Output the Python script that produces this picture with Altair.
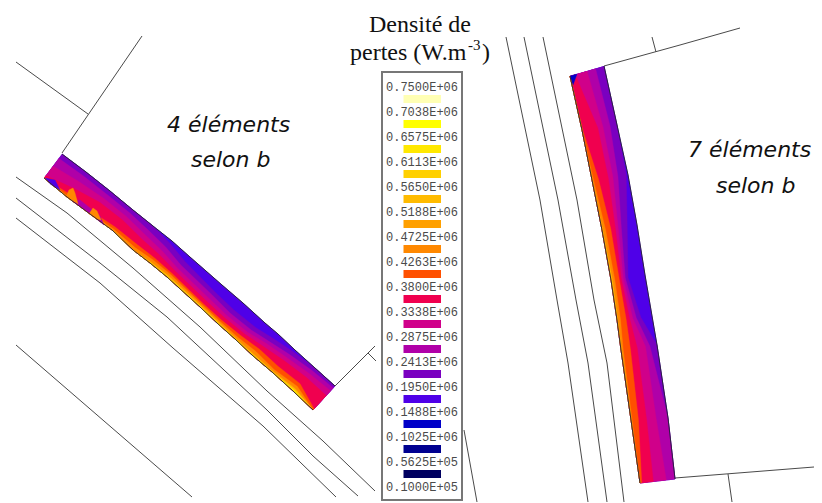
import altair as alt
import pandas as pd

# ---- legend ----
level_labels = ["0.7500E+06","0.7038E+06","0.6575E+06","0.6113E+06","0.5650E+06","0.5188E+06",
                "0.4725E+06","0.4263E+06","0.3800E+06","0.3338E+06","0.2875E+06","0.2413E+06",
                "0.1950E+06","0.1488E+06","0.1025E+06","0.5625E+05","0.1000E+05"]
level_colors = ["#ffffb4","#ffff00","#ffe800","#ffd000","#ffbb00","#ffa000","#ff8800","#ff5000",
                "#f0004f","#d0008a","#b000a8","#7a00c0","#4f00e8","#0000c8","#000090","#000060"]

VIOLET, PURPLE, MAUVE, MAGENTA, RED, DEEP, ORANGE, AMBER, YELLOW, NAVY = (
    "#4f00e8", "#7a00c0", "#b000a8", "#d0008a", "#f0004f", "#ff5000", "#ff8800", "#ffbb00", "#ffe600", "#0000c8")

# ---- left element (4 elements) ----
a_hot = [(44,178),(67,197),(90,214),(112,230),(133,250),(150,263),(167,277),(200,307),(217,323),
         (235,339),(252,355),(272,372),(293,391),(313,410)]
a_cold = [(62,154),(86,172),(110,191),(133,210),(153,226),(172,241),(190,257),(222,285),(243,303),
          (265,323),(278,334),(295,350),(315,368),(335,386)]
a_bands = [
    (PURPLE,  [1,1,1,1,1,.9,.78,.68,.65,.7,.8,.92,1,1]),
    (MAUVE,   [.82,.85,.85,.85,.8,.72,.6,.55,.5,.55,.65,.78,.88,.92]),
    (MAGENTA, [.5,.62,.68,.68,.62,.55,.45,.4,.38,.42,.55,.65,.75,.8]),
    (RED,     [.1,.35,.5,.5,.45,.4,.33,.28,.28,.32,.42,.52,.6,.6]),
    (DEEP,    [0,.12,.1,.15,.22,.22,.2,.15,.16,.2,.28,.26,.32,.05]),
    (ORANGE,  [0,.03,.02,.06,.1,.14,.14,.1,.1,.1,.16,.1,.2,0]),
    (AMBER,   [0,0,0,0,0,.04,.06,.05,.05,.03,.05,.03,.1,0]),
    (YELLOW,  [0,0,0,0,0,0,.015,.02,.015,.01,.01,0,.05,0]),
]
a_patches = [
    (VIOLET, [(45,178),(55,180),(60,190),(50,184)]),
    (MAUVE,  [(72,201),(80,200),(100,216),(104,225),(90,214)]),
    (ORANGE, [(66,197),(69,190),(73,188),(75,193),(78,204)]),
    (ORANGE, [(89,214),(93,208),(97,211),(101,220),(96,219)]),
]

# ---- right element (7 elements) ----
b_hot = [(570,76),(582,130),(592,180),(602,230),(611,280),(617,320),(621,350),(631,420),(640,483)]
b_cold = [(604,66),(617,125),(628,175),(637,225),(645,275),(652,316),(657,345),(668,418),(675,479)]
b_bands = [
    (PURPLE,  [1,1,.95,.72,.5,.68,1,1,1]),
    (MAUVE,   [.75,.8,.72,.55,.42,.55,.8,1,1]),
    (MAGENTA, [.5,.6,.58,.46,.36,.45,.68,.68,.75]),
    (RED,     [.15,.45,.45,.38,.3,.36,.45,.42,.38]),
    (DEEP,    [0,.02,.18,.25,.24,.26,.26,.2,.05]),
    (ORANGE,  [0,0,.04,.1,.11,.1,.06,.03,0]),
    (AMBER,   [0,0,0,.02,.04,.02,.01,0,0]),
]
b_patches = [(NAVY, [(570,76),(577,74),(573,85)])]

# ---- thin construction lines ----
thin_lines = [
    [(142,36),(62,153)],
    [(16,62),(88,114)],
    [(16,177),(67,213),(133,268),(200,327),(267,391),(323,441),(375,491)],
    [(16,198),(100,263),(167,317),(267,410),(313,456),(358,496)],
    [(16,218),(100,283),(173,348),(263,426),(336,497)],
    [(16,345),(192,497)],
    [(335,386),(375,346)],
    [(368,353),(376,361)],
    [(506,37),(540,200),(557,300),(568,363),(588,502)],
    [(524,37),(558,200),(576,300),(588,363),(607,502)],
    [(543,37),(577,200),(594,300),(607,363),(624,502)],
    [(604,66),(680,45),(740,28)],
    [(652,37),(656,52)],
    [(675,478),(814,467)],
    [(728,474),(732,502)],
    [(464,430),(477,502)],
]

# ---- annotations ----
notes = [
    ("4 éléments", 167, 132), ("selon b", 191, 167),
    ("7 éléments", 688, 157), ("selon b", 716, 193),
]
title_lines = [("Densité de", 369, 32, 24), ("pertes (W.m", 350, 60, 24), ("-3", 468, 50, 15), (")", 482, 60, 24)]

X = alt.X("x:Q", scale=alt.Scale(domain=[8, 814], nice=False, zero=False), axis=None)
Y = alt.Y("y:Q", scale=alt.Scale(domain=[503, 8], nice=False, zero=False), axis=None)


def path(points, **mark):
    df = pd.DataFrame(points, columns=["x", "y"])
    df["i"] = range(len(df))
    return alt.Chart(df).mark_line(interpolate="linear", **mark).encode(x=X, y=Y, order=alt.Order("i:Q"))


def element(hot, cold, bands, patches):
    out = [path(hot + cold[::-1], fill=VIOLET, stroke=VIOLET, strokeWidth=0.5)]
    for color, frac in bands:
        edge = [(h[0] + f * (c[0] - h[0]), h[1] + f * (c[1] - h[1])) for h, c, f in zip(hot, cold, frac)]
        out.append(path(hot + edge[::-1], fill=color, stroke=color, strokeWidth=0.4))
    for color, pts in patches:
        out.append(path(pts, fill=color, stroke=color, strokeWidth=0.4))
    out.append(path(hot, stroke="#3a2a30", strokeWidth=1))
    out.append(path(cold, stroke="#2a2040", strokeWidth=1))
    return out


layers = [path(pts, stroke="#4a4a4a", strokeWidth=1) for pts in thin_lines]
layers += element(a_hot, a_cold, a_bands, a_patches)
layers += element(b_hot, b_cold, b_bands, b_patches)

# legend box
box = pd.DataFrame([{"x": 382, "x2": 462, "y": 72, "y2": 500}])
layers.append(alt.Chart(box).mark_rect(fill="white", stroke="#777777", strokeWidth=2).encode(
    x=X, x2="x2:Q", y=Y, y2="y2:Q"))

swatches = pd.DataFrame({"c": level_colors})
swatches["x"] = 403.5
swatches["x2"] = 441
swatches["y"] = [95 + 25 * i for i in range(len(level_colors))]
swatches["y2"] = swatches["y"] + 8
layers.append(alt.Chart(swatches).mark_rect().encode(
    x=X, x2="x2:Q", y=Y, y2="y2:Q", color=alt.Color("c:N", scale=None)))

labels = pd.DataFrame({"t": level_labels})
labels["x"] = 386
labels["y"] = [87 + 25 * i for i in range(len(level_labels))]
layers.append(alt.Chart(labels).mark_text(font="Liberation Mono", fontSize=12, color="#4a4a4a",
                                          align="left", baseline="middle").encode(x=X, y=Y, text="t:N"))

notes_df = pd.DataFrame(notes, columns=["t", "x", "y"])
layers.append(alt.Chart(notes_df).mark_text(font="DejaVu Sans", fontSize=22, fontStyle="oblique", color="#111111",
                                            align="left", baseline="alphabetic").encode(x=X, y=Y, text="t:N"))

title_df = pd.DataFrame(title_lines, columns=["t", "x", "y", "s"])
layers.append(alt.Chart(title_df).mark_text(font="Liberation Serif", color="#111111",
                                            align="left", baseline="alphabetic").encode(
    x=X, y=Y, text="t:N", size=alt.Size("s:Q", scale=None, legend=None)))

chart = alt.layer(*layers).properties(
    width=806, height=495, padding=0, background="white",
    autosize=alt.AutoSizeParams(type="none"),
).configure_view(stroke=None)

chart.save("out.html", embed_options={"renderer": "svg", "actions": False})
